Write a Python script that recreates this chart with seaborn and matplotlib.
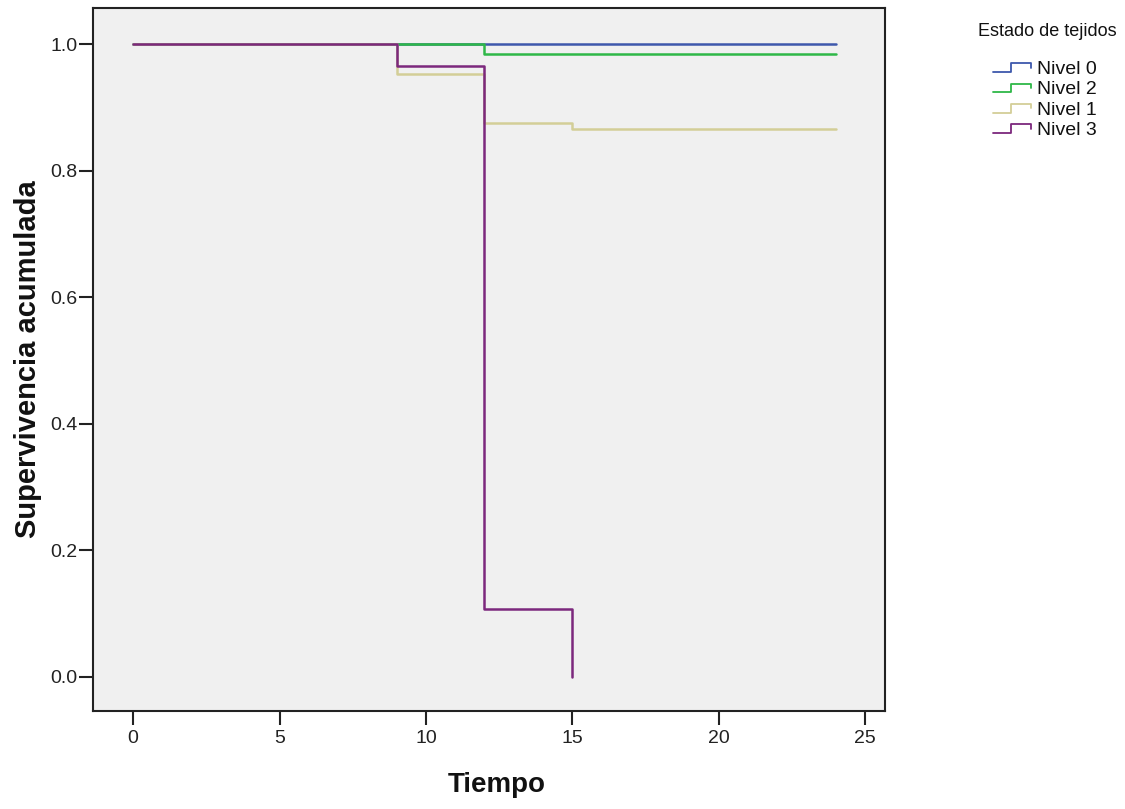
import matplotlib
matplotlib.use("Agg")
import matplotlib.pyplot as plt
from matplotlib.legend_handler import HandlerBase
from matplotlib.lines import Line2D
import pandas as pd
import seaborn as sns

# Kaplan-Meier step curves per tissue state
niveles = ["Nivel 0", "Nivel 2", "Nivel 1", "Nivel 3"]
colores = ["#3E58AC", "#2EB848", "#D3CE97", "#7C287D"]

t_nivel0 = [0, 24]
s_nivel0 = [1.0, 1.0]

t_nivel2 = [0, 12, 24]
s_nivel2 = [1.0, 0.985, 0.985]

t_nivel1 = [0, 9, 12, 15, 24]
s_nivel1 = [1.0, 0.953, 0.876, 0.866, 0.866]

t_nivel3 = [0, 9, 12, 15]
s_nivel3 = [1.0, 0.965, 0.107, 0.0]

x_ticks = [0, 5, 10, 15, 20, 25]
y_ticks = [0.0, 0.2, 0.4, 0.6, 0.8, 1.0]

frames = []
for nombre, t, s in zip(niveles,
                        [t_nivel0, t_nivel2, t_nivel1, t_nivel3],
                        [s_nivel0, s_nivel2, s_nivel1, s_nivel3]):
    frames.append(pd.DataFrame({"Tiempo": t, "Supervivencia": s,
                                "Estado de tejidos": nombre}))
df = pd.concat(frames, ignore_index=True)

sns.set_theme(style="white")
plt.rcParams["font.family"] = ["Liberation Sans", "DejaVu Sans"]

fig = plt.figure(figsize=(11.25, 8.09), dpi=100)
fig.patch.set_facecolor("white")
ax = fig.add_axes([0.0827, 0.1211, 0.704, 0.869])
ax.set_facecolor("#F0F0F0")

sns.lineplot(data=df, x="Tiempo", y="Supervivencia", hue="Estado de tejidos",
             hue_order=niveles, palette=colores, estimator=None, sort=False,
             drawstyle="steps-post", linewidth=1.8, legend=False, ax=ax)

ax.set_xlim(-1.37, 25.68)
ax.set_ylim(-0.054, 1.057)
ax.set_xticks(x_ticks)
ax.set_yticks(y_ticks)
ax.set_xticklabels([str(v) for v in x_ticks])
ax.set_yticklabels([f"{v:.1f}" for v in y_ticks])
ax.tick_params(axis="both", direction="out", length=10, width=1.5,
               color="#222222", labelsize=14, labelcolor="#222222",
               bottom=True, left=True)
ax.tick_params(axis="x", pad=4)
ax.tick_params(axis="y", pad=1)
for side in ["left", "bottom", "top", "right"]:
    ax.spines[side].set_color("#222222")
    ax.spines[side].set_linewidth(1.5)

ax.set_xlabel("Tiempo", fontsize=20, fontweight="bold", labelpad=18,
              color="#111111")
ax.xaxis.label.set_x(0.51)
ax.set_ylabel("Supervivencia acumulada", fontsize=21, fontweight="bold",
              labelpad=6, color="#111111")


class StepHandler(HandlerBase):
    """Draws a small step shape as the legend key."""
    def create_artists(self, legend, orig_handle, xdescent, ydescent,
                       width, height, fontsize, trans):
        xs = [0, width * 0.45, width * 0.45, width * 0.97, width * 0.97]
        ys = [height * 0.1, height * 0.1, height * 0.8, height * 0.8,
              height * 0.45]
        xs = [x - xdescent for x in xs]
        ys = [y - ydescent for y in ys]
        line = Line2D(xs, ys, color=orig_handle.get_color(), linewidth=1.3,
                      transform=trans)
        return [line]


fig.text(1047 / 1125, 1 - 32 / 809, "Estado de tejidos", fontsize=13,
         ha="center", va="center", color="#111111")

handles = [Line2D([], [], color=c) for c in colores]
leg = fig.legend(handles, niveles, loc="upper left",
                 bbox_to_anchor=(993 / 1125, 1 - 61 / 809),
                 frameon=False, fontsize=14,
                 handler_map={Line2D: StepHandler()}, handlelength=2.0,
                 handleheight=0.6, handletextpad=0.25, labelspacing=0.17,
                 borderpad=0, borderaxespad=0)
for txt in leg.get_texts():
    txt.set_color("#111111")

fig.savefig("out.png", dpi=100)
